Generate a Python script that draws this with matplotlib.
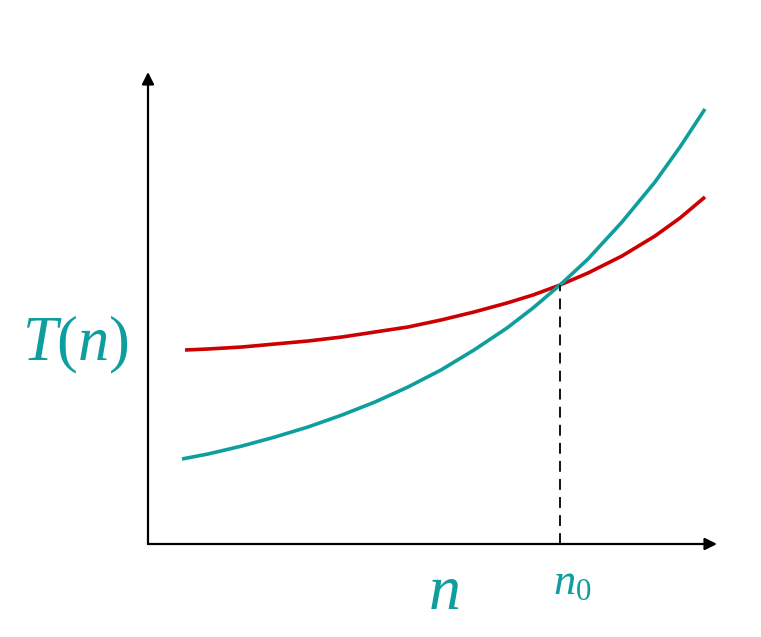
import matplotlib
matplotlib.use("Agg")
import matplotlib.pyplot as plt

plt.rcParams['mathtext.fontset'] = 'custom'
plt.rcParams['mathtext.rm'] = 'Liberation Serif'
plt.rcParams['mathtext.it'] = 'Liberation Serif:italic'

# curve values (n, T(n)) measured from the origin of the axes
teal_n = [34, 60, 94, 127, 160, 194, 227, 260, 293, 326, 359, 385, 412, 440, 474, 507, 532, 557]
teal_t = [85, 90, 98, 107, 117, 129, 142, 157, 174, 194, 216, 236, 259, 285, 322, 362, 397, 435]
red_n = [37, 60, 94, 127, 160, 194, 227, 260, 293, 326, 359, 385, 412, 440, 474, 507, 532, 557]
red_t = [194, 195, 197, 200, 203, 207, 212, 217, 224, 232, 241, 249, 259, 271, 288, 308, 326, 347]

n0 = 412
t0 = 259
x_end = 569
y_end = 472

teal = '#0f9e9e'
red = '#cc0000'

fig = plt.figure(figsize=(7.61, 6.37), dpi=100)
ax = fig.add_axes([0, 0, 1, 1])
ax.set_xlim(-148, 613)
ax.set_ylim(-93, 544)
ax.axis('off')

# axes with arrow heads
ax.annotate('', xy=(x_end, 0), xytext=(0, 0),
            arrowprops=dict(arrowstyle='-|>', color='black', lw=1.6,
                            mutation_scale=18, shrinkA=0, shrinkB=0))
ax.annotate('', xy=(0, y_end), xytext=(0, 0),
            arrowprops=dict(arrowstyle='-|>', color='black', lw=1.6,
                            mutation_scale=18, shrinkA=0, shrinkB=0))

ax.plot(red_n, red_t, color=red, lw=2.6, solid_capstyle='butt', solid_joinstyle='round')
ax.plot(teal_n, teal_t, color=teal, lw=2.6, solid_capstyle='butt', solid_joinstyle='round')

ax.plot([n0, n0], [0, t0], color='black', lw=1.3, ls=(0, (6, 4)))

ax.text(-73, 199, r'$T(n)$', color=teal, fontsize=45, ha='center', va='center')
ax.text(296, -47, r'$n$', color=teal, fontsize=46, ha='center', va='center')
ax.text(424, -37, r'$n_0$', color=teal, fontsize=32, ha='center', va='center')

fig.savefig('out.png', dpi=100)
